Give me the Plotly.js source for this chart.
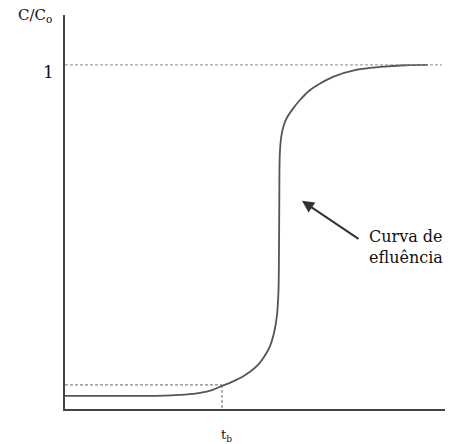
<!DOCTYPE html>
<html>
<head>
<meta charset="utf-8">
<script src="https://cdn.plot.ly/plotly-3.0.1.min.js"></script>
<style>
  html, body { margin: 0; padding: 0; background: #fff; }
  #chart { width: 465px; height: 444px; }
</style>
</head>
<body>
<div id="chart"></div>
<script>
// Breakthrough (effluent) curve: time vs. C/C0
const timeValues = [0, 55, 100, 120, 135, 147, 157, 167, 177, 185, 193, 199, 205, 209, 212, 213.5, 214, 214.3, 214.8, 216.2, 218.5, 222, 228, 235, 243, 253, 268, 292, 315, 340, 363];
const concRatio  = [0.038, 0.038, 0.039, 0.042, 0.047, 0.055, 0.067, 0.079, 0.093, 0.108, 0.128, 0.151, 0.183, 0.221, 0.273, 0.346, 0.462, 0.608, 0.740, 0.790, 0.822, 0.847, 0.873, 0.898, 0.922, 0.942, 0.965, 0.986, 0.994, 0.999, 1.0];

// Reference levels
const saturationLevel = 1;          // C/C0 = 1
const breakthroughLevel = 0.07;     // C/C0 at breakthrough
const breakthroughTime = 157;       // t_b
const saturationLineEnd = 377;

const serif = 'DejaVu Serif, Liberation Serif, serif';
const dashColor = '#8a8a8a';

const trace = {
  x: timeValues,
  y: concRatio,
  mode: 'lines',
  line: { color: '#555', width: 1.8, shape: 'spline', smoothing: 0.9 },
  hoverinfo: 'skip'
};

const layout = {
  width: 465,
  height: 444,
  margin: { l: 65, r: 20, t: 15, b: 35 },
  paper_bgcolor: '#fff',
  plot_bgcolor: '#fff',
  showlegend: false,
  xaxis: {
    range: [0, 380],
    showline: true, linecolor: '#444', linewidth: 2,
    showgrid: false, zeroline: false, showticklabels: false, ticks: ''
  },
  yaxis: {
    range: [0, 1.145],
    showline: true, linecolor: '#444', linewidth: 2,
    showgrid: false, zeroline: false, showticklabels: false, ticks: ''
  },
  shapes: [
    { type: 'line', xref: 'x', yref: 'y', x0: 0, x1: saturationLineEnd, y0: saturationLevel, y1: saturationLevel,
      line: { color: dashColor, width: 1, dash: '3px,2px' } },
    { type: 'line', xref: 'x', yref: 'y', x0: 0, x1: breakthroughTime, y0: breakthroughLevel, y1: breakthroughLevel,
      line: { color: '#666', width: 1, dash: '3px,2px' } },
    { type: 'line', xref: 'x', yref: 'y', x0: breakthroughTime, x1: breakthroughTime, y0: breakthroughLevel, y1: 0,
      line: { color: '#666', width: 1, dash: '3px,2px' } }
  ],
  annotations: [
    { xref: 'paper', yref: 'paper', x: -0.08, y: 1.0, xanchor: 'center', yanchor: 'middle',
      text: 'C/C<sub>o</sub>', showarrow: false, font: { family: serif, size: 15, color: '#111' } },
    { xref: 'paper', yref: 'y', x: -0.025, y: saturationLevel, xanchor: 'right', yanchor: 'top', yshift: 5,
      text: '1', showarrow: false, font: { family: serif, size: 17, color: '#111' } },
    { xref: 'x', yref: 'paper', x: breakthroughTime, y: -0.068, xanchor: 'center', yanchor: 'middle',
      xshift: 4, text: 't<sub>b</sub>', showarrow: false, font: { family: serif, size: 13, color: '#111' } },
    { xref: 'x', yref: 'y', x: 237, y: 0.605, ax: 58, ay: 39, axref: 'pixel', ayref: 'pixel',
      text: '', showarrow: true, arrowhead: 2, arrowsize: 1.2, arrowwidth: 2, arrowcolor: '#333' },
    { xref: 'x', yref: 'y', x: 302, y: 0.47, xanchor: 'left', yanchor: 'middle', align: 'left',
      text: 'Curva de<br>efluência', showarrow: false,
      font: { family: serif, size: 16, color: '#111' } }
  ]
};

Plotly.newPlot('chart', [trace], layout, { displayModeBar: false, staticPlot: true });
</script>
</body>
</html>
